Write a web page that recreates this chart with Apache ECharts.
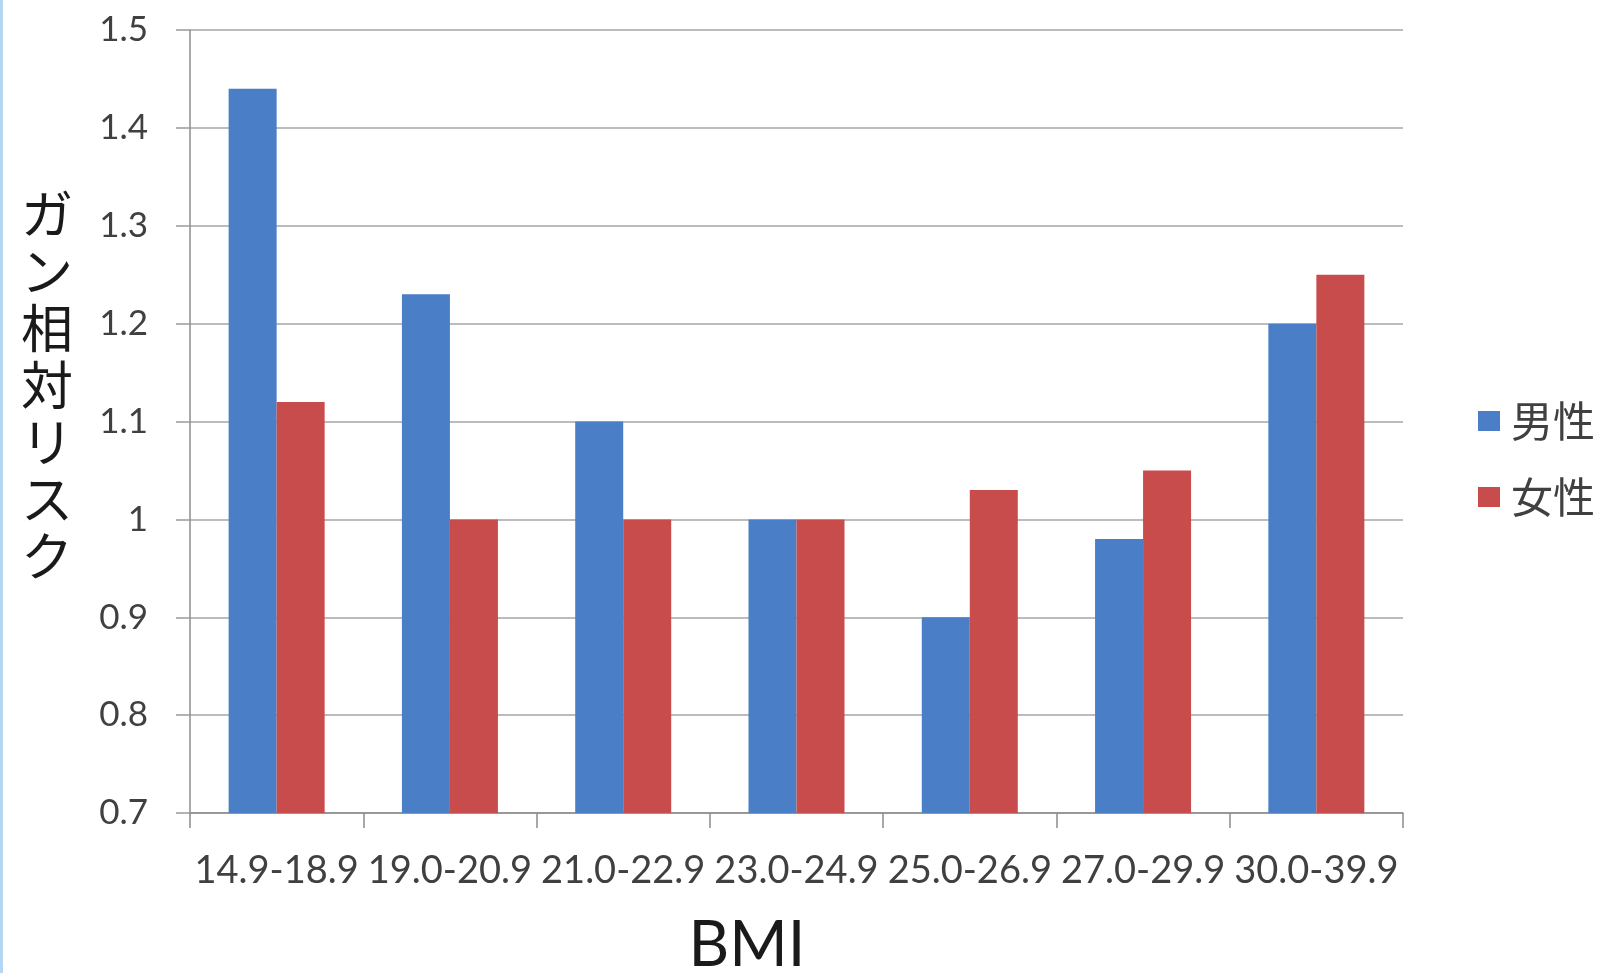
<!DOCTYPE html>
<html>
<head>
<meta charset="utf-8">
<script src="https://cdn.jsdelivr.net/npm/echarts@6/dist/echarts.min.js"></script>
<style>
  html, body { margin: 0; padding: 0; background: #ffffff; }
  #chart { width: 1612px; height: 973px; }
  #edge { position: absolute; left: 0; top: 0; width: 3px; height: 973px; background: #b5d6f2; }
</style>
</head>
<body>
<div id="chart"></div>
<div id="edge"></div>
<script>
// BMI bands and relative cancer risk by sex
const categories = ['14.9-18.9', '19.0-20.9', '21.0-22.9', '23.0-24.9', '25.0-26.9', '27.0-29.9', '30.0-39.9'];
const maleRisk   = [1.44, 1.23, 1.10, 1.00, 0.90, 0.98, 1.20];
const femaleRisk = [1.12, 1.00, 1.00, 1.00, 1.03, 1.05, 1.25];
const seriesNames = ['男性', '女性'];
const yTitle = 'ガン相対リスク';
const xTitle = 'BMI';

const chart = echarts.init(document.getElementById('chart'));
const latin = 'Lato, "Open Sans", sans-serif';
const cjk = '"Noto Sans CJK JP", sans-serif';

chart.setOption({
  animation: false,
  backgroundColor: '#ffffff',
  color: ['#4A7EC6', '#C84C4C'],
  grid: { left: 190, right: 209, top: 30, bottom: 160, containLabel: false },
  legend: {
    orient: 'vertical',
    left: 1473,
    top: 395,
    icon: 'rect',
    itemWidth: 22,
    itemHeight: 20,
    itemGap: 34,
    textStyle: { fontFamily: cjk, fontSize: 42, color: '#404040', padding: [0, 0, 0, 6] },
    data: seriesNames
  },
  xAxis: {
    type: 'category',
    data: categories,
    axisLine: { lineStyle: { color: '#8c8c8c', width: 1.5 } },
    axisTick: { show: true, length: 15, alignWithLabel: false, lineStyle: { color: '#8c8c8c', width: 1.5 } },
    axisLabel: { interval: 0, margin: 39, fontFamily: latin, fontSize: 38, color: '#404040' },
    splitLine: { show: false }
  },
  yAxis: {
    type: 'value',
    min: 0.7,
    max: 1.5,
    interval: 0.1,
    axisLine: { show: true, lineStyle: { color: '#8c8c8c', width: 1.5 } },
    axisTick: { show: true, inside: false, length: 14, lineStyle: { color: '#9a9a9a', width: 1.5 } },
    axisLabel: {
      margin: 42,
      fontFamily: latin,
      fontSize: 35,
      color: '#404040',
      formatter: v => String(+v.toFixed(1))
    },
    splitLine: { show: true, lineStyle: { color: '#a6a6a6', width: 1.5 } }
  },
  graphic: [
    {
      // vertical axis title, one character per line
      type: 'text',
      x: 47,
      y: 385,
      style: {
        text: yTitle.split('').join('\n'),
        fontFamily: cjk,
        fontSize: 52,
        lineHeight: 57,
        fill: '#1a1a1a',
        align: 'center',
        verticalAlign: 'middle'
      }
    },
    {
      type: 'text',
      x: 747,
      y: 946,
      style: { text: xTitle, fontFamily: latin, fontSize: 63, fill: '#1a1a1a', align: 'center', verticalAlign: 'middle' }
    }
  ],
  series: [
    { name: seriesNames[0], type: 'bar', data: maleRisk, barWidth: 48, barGap: '0%' },
    { name: seriesNames[1], type: 'bar', data: femaleRisk, barWidth: 48, barGap: '0%' }
  ]
});
</script>
</body>
</html>
